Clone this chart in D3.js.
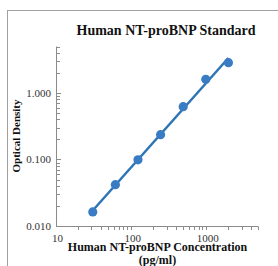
<!DOCTYPE html>
<html><head><meta charset="utf-8">
<script src="https://cdn.jsdelivr.net/npm/d3@7/dist/d3.min.js"></script>
<style>html,body{margin:0;padding:0;background:#fff;}svg{display:block;}</style>
</head><body>
<svg id="c" width="278" height="266"></svg>
<script>
const concentrations = [31.25, 62.5, 125, 250, 500, 1000, 2000];
const opticalDensity = [0.0163, 0.0418, 0.099, 0.236, 0.622, 1.607, 2.86];
const xTickLabels = ["10", "100", "1000"];
const yTickLabels = ["0.010", "0.100", "1.000"];
const titleText = "Human NT-proBNP Standard";
const xTitle1 = "Human NT-proBNP Concentration";
const xTitle2 = "(pg/ml)";
const yTitle = "Optical Density";

const svg = d3.select("#c");
const serif = "'Liberation Serif','Times New Roman',serif";
const blue = "#2e75b6";

// frame
svg.append("rect").attr("x", 7.5).attr("y", 10.5).attr("width", 300).attr("height", 300)
  .attr("fill", "none").attr("stroke", "#a0a0a0").attr("stroke-width", 1);

const x = d3.scaleLog().domain([10, 5000]).range([55.6, 258.3]);
const y = d3.scaleLog().domain([0.01, 5]).range([226, 46.5]);

const axisColor = "#8c8c8c";
svg.append("line").attr("x1", 56.5).attr("x2", 56.5).attr("y1", y(5)).attr("y2", 226.5)
  .attr("stroke", axisColor);
svg.append("line").attr("x1", 56).attr("x2", x(5000)).attr("y1", 226.5).attr("y2", 226.5)
  .attr("stroke", axisColor);

// y ticks (inward)
const yTicks = [];
[0.01, 0.1, 1].forEach(d => { for (let k = 1; k <= 9; k++) { const v = +(d * k).toPrecision(3); if (v <= 5) yTicks.push(v); } });
const yMajor = [0.01, 0.1, 1];
svg.append("g").selectAll("line").data(yTicks.filter(v => v > 0.01)).join("line")
  .attr("x1", 56.5).attr("x2", d => yMajor.includes(d) ? 61 : 60)
  .attr("y1", d => Math.round(y(d)) + 0.5).attr("y2", d => Math.round(y(d)) + 0.5)
  .attr("stroke", axisColor);

// x ticks (downward)
const xTicks = [];
[10, 100, 1000].forEach(d => { for (let k = 1; k <= 9; k++) { const v = d * k; if (v <= 5000) xTicks.push(v); } });
svg.append("g").selectAll("line").data(xTicks.filter(v => v > 10)).join("line")
  .attr("x1", d => Math.round(x(d)) + 0.5).attr("x2", d => Math.round(x(d)) + 0.5)
  .attr("y1", 226.5).attr("y2", 230)
  .attr("stroke", axisColor);

// y tick labels
svg.append("g").selectAll("text").data(yMajor).join("text")
  .attr("x", 51).attr("y", d => y(d) + 4)
  .attr("text-anchor", "end").attr("font-family", serif).attr("font-size", 11)
  .attr("fill", "#333").text((d, i) => yTickLabels[i]);

// x tick labels
svg.append("g").selectAll("text").data([10, 100, 1000]).join("text")
  .attr("x", d => x(d) + 2).attr("y", 242)
  .attr("text-anchor", "middle").attr("font-family", serif).attr("font-size", 11)
  .attr("fill", "#333").text((d, i) => xTickLabels[i]);

// regression in log-log space
const lx = concentrations.map(Math.log10), ly = opticalDensity.map(Math.log10);
const mx = d3.mean(lx), my = d3.mean(ly);
const slope = d3.sum(lx.map((v, i) => (v - mx) * (ly[i] - my))) / d3.sum(lx.map(v => (v - mx) ** 2));
const icpt = my - slope * mx;
const fit = c => Math.pow(10, icpt + slope * Math.log10(c));
const x0 = concentrations[0], x1 = concentrations[concentrations.length - 1];
svg.append("line").attr("x1", x(x0)).attr("y1", y(fit(x0))).attr("x2", x(x1)).attr("y2", y(fit(x1)))
  .attr("stroke", blue).attr("stroke-width", 2.5);

// points
svg.append("g").selectAll("circle").data(concentrations).join("circle")
  .attr("cx", d => x(d)).attr("cy", (d, i) => y(opticalDensity[i])).attr("r", 4.6)
  .attr("fill", "#3a7cc4");

// titles
svg.append("text").attr("x", 166).attr("y", 35).attr("text-anchor", "middle")
  .attr("font-family", serif).attr("font-weight", "bold").attr("font-size", 14)
  .attr("fill", "#111").text(titleText);
svg.append("text").attr("x", 157.5).attr("y", 251).attr("text-anchor", "middle")
  .attr("font-family", serif).attr("font-weight", "bold").attr("font-size", 12)
  .attr("fill", "#111").text(xTitle1);
svg.append("text").attr("x", 157.5).attr("y", 264).attr("text-anchor", "middle")
  .attr("font-family", serif).attr("font-weight", "bold").attr("font-size", 12)
  .attr("fill", "#111").text(xTitle2);
svg.append("text").attr("transform", "translate(20,136) rotate(-90)").attr("text-anchor", "middle")
  .attr("font-family", serif).attr("font-weight", "bold").attr("font-size", 11)
  .attr("fill", "#111").text(yTitle);
</script>
</body></html>
